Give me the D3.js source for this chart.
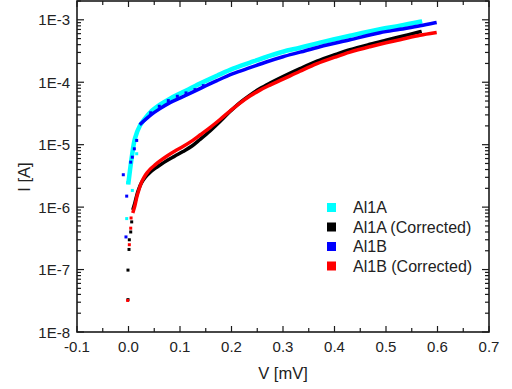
<!DOCTYPE html>
<html>
<head>
<meta charset="utf-8">
<script src="https://cdn.jsdelivr.net/npm/d3@7"></script>
<style>
  body { margin: 0; background: #fff; }
  svg { display: block; font-family: "Liberation Sans", Arial, sans-serif; }
</style>
</head>
<body>
<svg id="chart" width="512" height="389"></svg>
<script>
// axis ticks
var xTicks = [-0.1, 0.0, 0.1, 0.2, 0.3, 0.4, 0.5, 0.6, 0.7];
var xTickLabels = ["-0.1", "0.0", "0.1", "0.2", "0.3", "0.4", "0.5", "0.6", "0.7"];
var yTicks = [1e-8, 1e-7, 1e-6, 1e-5, 1e-4, 1e-3];
var yTickLabels = ["1E-8", "1E-7", "1E-6", "1E-5", "1E-4", "1E-3"];

var seriesNames = ["Al1A", "Al1A (Corrected)", "Al1B", "Al1B (Corrected)"];
var seriesColors = ["#00ffff", "#000000", "#0000ff", "#ff0000"];

// Al1A (raw) - V [mV], I [A]
var al1aV = [0.000, 0.0029, 0.0068, 0.0126, 0.0223, 0.032, 0.0417, 0.0612, 0.0806, 0.1058, 0.1388, 0.1718, 0.2029, 0.2359, 0.2689, 0.300, 0.333, 0.3718, 0.4301, 0.4883, 0.5272, 0.566];
var al1aI = [2.5e-6, 3.9e-6, 6.7e-6, 1.26e-5, 2.03e-5, 2.62e-5, 3.27e-5, 4.38e-5, 5.47e-5, 6.95e-5, 9.51e-5, 1.27e-4, 1.65e-4, 2.06e-4, 2.56e-4, 3.08e-4, 3.57e-4, 4.3e-4, 5.55e-4, 7.05e-4, 8.02e-4, 9.29e-4];
var al1aLooseV = [-0.0035, -0.0016, 0.0074, 0.0159];
var al1aLooseI = [6.55e-7, 2.46e-6, 1.85e-6, 7.16e-6];

// Al1A (Corrected)
var al1acV = [0.0093, 0.0126, 0.0165, 0.0204, 0.0252, 0.0301, 0.0359, 0.0417, 0.0515, 0.0612, 0.0748, 0.0903, 0.1058, 0.1233, 0.1388, 0.1583, 0.1777, 0.1971, 0.2165, 0.2359, 0.2553, 0.2748, 0.300, 0.333, 0.366, 0.401, 0.4301, 0.4689, 0.500, 0.5272, 0.566];
var al1acI = [9.57e-7, 1.19e-6, 1.6e-6, 2.0e-6, 2.44e-6, 2.83e-6, 3.22e-6, 3.6e-6, 4.17e-6, 4.74e-6, 5.6e-6, 6.6e-6, 7.78e-6, 9.52e-6, 1.21e-5, 1.66e-5, 2.35e-5, 3.39e-5, 4.72e-5, 6.22e-5, 7.91e-5, 9.68e-5, 1.23e-4, 1.65e-4, 2.17e-4, 2.76e-4, 3.32e-4, 4.06e-4, 4.71e-4, 5.35e-4, 6.43e-4];
var al1acLooseV = [-0.001, -0.001, 0.001, 0.0016, 0.0043, 0.0062];
var al1acLooseI = [3.3e-8, 9.8e-8, 2.1e-7, 3.0e-7, 4.0e-7, 5.8e-7];

// Al1B (raw)
var al1bV = [0.0243, 0.0417, 0.0612, 0.0806, 0.1058, 0.1388, 0.1718, 0.2029, 0.2359, 0.2689, 0.300, 0.333, 0.3718, 0.4301, 0.4883, 0.5272, 0.566, 0.5951];
var al1bI = [2.18e-5, 2.92e-5, 3.78e-5, 4.72e-5, 5.89e-5, 7.91e-5, 1.06e-4, 1.37e-4, 1.71e-4, 2.13e-4, 2.56e-4, 3.03e-4, 3.71e-4, 4.8e-4, 6.2e-4, 7.05e-4, 8.02e-4, 8.95e-4];
var al1bLooseV = [-0.0101, -0.0035, -0.0049, 0.0043, 0.0074, 0.0113, 0.0159, 0.0431, 0.0598, 0.0773, 0.0948, 0.1117, 0.1291, 0.1452];
var al1bLooseI = [3.3e-6, 1.5e-6, 3.33e-7, 5.25e-6, 6.31e-6, 8.59e-6, 1.17e-5, 3.24e-5, 4.12e-5, 5.08e-5, 5.96e-5, 6.75e-5, 7.62e-5, 8.83e-5];

// Al1B (Corrected)
var al1bcV = [0.0093, 0.0126, 0.0165, 0.0204, 0.0252, 0.0301, 0.0359, 0.0417, 0.0515, 0.0612, 0.0748, 0.0903, 0.1058, 0.1233, 0.1388, 0.1583, 0.1777, 0.1971, 0.2165, 0.2359, 0.2553, 0.2748, 0.300, 0.333, 0.366, 0.401, 0.4301, 0.4689, 0.500, 0.5272, 0.566, 0.5951];
var al1bcI = [8.57e-7, 1.07e-6, 1.49e-6, 1.92e-6, 2.49e-6, 2.99e-6, 3.53e-6, 4.02e-6, 4.74e-6, 5.5e-6, 6.6e-6, 7.93e-6, 9.35e-6, 1.15e-5, 1.43e-5, 1.88e-5, 2.53e-5, 3.45e-5, 4.63e-5, 6.0e-5, 7.48e-5, 8.99e-5, 1.12e-4, 1.5e-4, 1.98e-4, 2.52e-4, 3.03e-4, 3.71e-4, 4.3e-4, 4.8e-4, 5.65e-4, 6.2e-4];
var al1bcLooseV = [-0.0016, 0.0016, 0.0043, 0.005];
var al1bcLooseI = [3.2e-8, 2.5e-7, 4.6e-7, 6.7e-7];

var series = [
  { v: al1aV, i: al1aI, lv: al1aLooseV, li: al1aLooseI, w: 4.5 },
  { v: al1acV, i: al1acI, lv: al1acLooseV, li: al1acLooseI, w: 3.5 },
  { v: al1bV, i: al1bI, lv: al1bLooseV, li: al1bLooseI, w: 3.5 },
  { v: al1bcV, i: al1bcI, lv: al1bcLooseV, li: al1bcLooseI, w: 3.5 }
];

var svg = d3.select("#chart");
var pLeft = 77, pRight = 489, pTop = 1, pBottom = 332;

var x = d3.scaleLinear().domain([-0.1, 0.7]).range([pLeft, pRight]);
var y = d3.scaleLog().domain([1e-8, 2e-3]).range([pBottom, pTop]);

var g = svg.append("g");

// series
series.forEach(function (s, k) {
  var pts = s.v.map(function (d, j) { return [d, s.i[j]]; });
  var line = d3.line().x(function (d) { return x(d[0]); }).y(function (d) { return y(d[1]); })
    .curve(d3.curveCatmullRom);
  g.append("path").attr("d", line(pts))
    .attr("fill", "none").attr("stroke", seriesColors[k])
    .attr("stroke-width", s.w).attr("stroke-linecap", "square");
  var loose = s.lv.map(function (d, j) { return [d, s.li[j]]; });
  g.selectAll(null).data(loose).enter().append("rect")
    .attr("x", function (d) { return x(d[0]) - 1.5; })
    .attr("y", function (d) { return y(d[1]) - 1.5; })
    .attr("width", 3).attr("height", 3)
    .attr("fill", seriesColors[k]);
});

// axes
var axisColor = "#1a1a1a";
var minorX = d3.range(-0.1, 0.70001, 0.05);
var minorY = [];
yTicks.forEach(function (t) {
  if (t >= 1e-3) { minorY.push(2e-3); return; }
  for (var m = 2; m <= 9; m++) minorY.push(t * m);
});

var ax = svg.append("g").attr("stroke", axisColor).attr("stroke-width", 1.2);
minorX.forEach(function (t) {
  var major = xTicks.some(function (m) { return Math.abs(m - t) < 1e-6; });
  var len = major ? 6 : 4;
  ax.append("line").attr("x1", x(t)).attr("x2", x(t)).attr("y1", pBottom).attr("y2", pBottom - len);
  ax.append("line").attr("x1", x(t)).attr("x2", x(t)).attr("y1", pTop).attr("y2", pTop + len);
});
yTicks.forEach(function (t) {
  ax.append("line").attr("x1", pLeft).attr("x2", pLeft + 7).attr("y1", y(t)).attr("y2", y(t));
  ax.append("line").attr("x1", pRight).attr("x2", pRight - 7).attr("y1", y(t)).attr("y2", y(t));
});
minorY.forEach(function (t) {
  ax.append("line").attr("x1", pLeft).attr("x2", pLeft + 4).attr("y1", y(t)).attr("y2", y(t));
  ax.append("line").attr("x1", pRight).attr("x2", pRight - 4).attr("y1", y(t)).attr("y2", y(t));
});
ax.append("rect").attr("x", pLeft).attr("y", pTop).attr("width", pRight - pLeft).attr("height", pBottom - pTop)
  .attr("fill", "none").attr("stroke-width", 1.6);

// tick labels
svg.selectAll(".xl").data(xTicks).enter().append("text")
  .attr("x", function (d) { return x(d); }).attr("y", pBottom + 20)
  .attr("text-anchor", "middle").attr("font-size", 15).attr("fill", "#222")
  .text(function (d, j) { return xTickLabels[j]; });
svg.selectAll(".yl").data(yTicks).enter().append("text")
  .attr("x", pLeft - 7).attr("y", function (d) { return y(d) + 5.5; })
  .attr("text-anchor", "end").attr("font-size", 15).attr("fill", "#222")
  .text(function (d, j) { return yTickLabels[j]; });

// axis titles
svg.append("text").attr("x", (pLeft + pRight) / 2).attr("y", 379)
  .attr("text-anchor", "middle").attr("font-size", 16.5).attr("fill", "#222").text("V [mV]");
svg.append("text").attr("transform", "translate(30,177) rotate(-90)")
  .attr("text-anchor", "middle").attr("font-size", 16.5).attr("fill", "#222").text("I [A]");

// legend
var legend = svg.append("g");
seriesNames.forEach(function (name, k) {
  var ly = 207.5 + k * 19.5;
  legend.append("rect").attr("x", 327).attr("y", ly - 4.5).attr("width", 9).attr("height", 9)
    .attr("fill", seriesColors[k]);
  legend.append("text").attr("x", 353).attr("y", ly + 5.5).attr("font-size", 16).attr("fill", "#222").text(name);
});
</script>
</body>
</html>
